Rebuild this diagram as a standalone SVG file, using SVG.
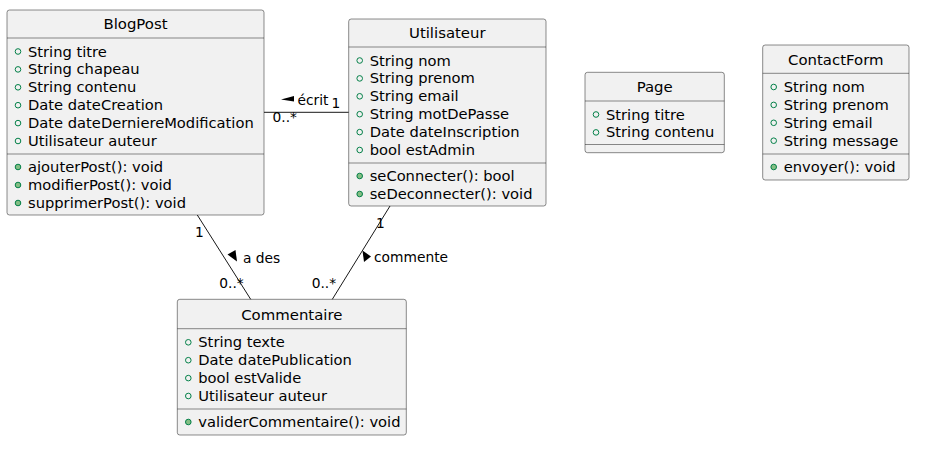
<svg xmlns="http://www.w3.org/2000/svg" width="928" height="451" viewBox="0 0 928 451">
<style>
.box{fill:#F1F1F1;stroke:#181818;stroke-width:0.5}
.sep{stroke:#181818;stroke-width:0.5}
.title{font-family:"DejaVu Sans",sans-serif;font-size:14.9px;fill:#000;text-anchor:middle}
.attr{font-family:"DejaVu Sans",sans-serif;font-size:14.7px;fill:#000}
.lbl{font-family:"DejaVu Sans",sans-serif;font-size:13.8px;fill:#000}
.fld{fill:none;stroke:#038048;stroke-width:1}
.mth{fill:#84BE84;stroke:#038048;stroke-width:1}
.edge{stroke:#181818;stroke-width:1;fill:none}
</style>
<rect width="928" height="451" fill="#FFFFFF"/>
<g id="BlogPost">
<rect class="box" x="7" y="10" width="257" height="205" rx="2.5"/>
<text class="title" x="135.5" y="29">BlogPost</text>
<line class="sep" x1="7" y1="38" x2="264" y2="38"/>
<circle class="fld" cx="18" cy="51.5" r="2.8"/><text class="attr" x="28" y="56.5">String titre</text>
<circle class="fld" cx="18" cy="69.4" r="2.8"/><text class="attr" x="28" y="74.4">String chapeau</text>
<circle class="fld" cx="18" cy="87.3" r="2.8"/><text class="attr" x="28" y="92.3">String contenu</text>
<circle class="fld" cx="18" cy="105.2" r="2.8"/><text class="attr" x="28" y="110.2">Date dateCreation</text>
<circle class="fld" cx="18" cy="123.1" r="2.8"/><text class="attr" x="28" y="128.1">Date dateDerniereModification</text>
<circle class="fld" cx="18" cy="141" r="2.8"/><text class="attr" x="28" y="146">Utilisateur auteur</text>
<line class="sep" x1="7" y1="154" x2="264" y2="154"/>
<circle class="mth" cx="18" cy="167" r="2.8"/><text class="attr" x="28" y="172">ajouterPost(): void</text>
<circle class="mth" cx="18" cy="185" r="2.8"/><text class="attr" x="28" y="190">modifierPost(): void</text>
<circle class="mth" cx="18" cy="203" r="2.8"/><text class="attr" x="28" y="208">supprimerPost(): void</text>
</g>
<g id="Utilisateur">
<rect class="box" x="348.7" y="19" width="197.3" height="187" rx="2.5"/>
<text class="title" x="447.3" y="38">Utilisateur</text>
<line class="sep" x1="348.7" y1="47" x2="546" y2="47"/>
<circle class="fld" cx="359.7" cy="60.5" r="2.8"/><text class="attr" x="369.7" y="65.5">String nom</text>
<circle class="fld" cx="359.7" cy="78.4" r="2.8"/><text class="attr" x="369.7" y="83.4">String prenom</text>
<circle class="fld" cx="359.7" cy="96.3" r="2.8"/><text class="attr" x="369.7" y="101.3">String email</text>
<circle class="fld" cx="359.7" cy="114.2" r="2.8"/><text class="attr" x="369.7" y="119.2">String motDePasse</text>
<circle class="fld" cx="359.7" cy="132.1" r="2.8"/><text class="attr" x="369.7" y="137.1">Date dateInscription</text>
<circle class="fld" cx="359.7" cy="150" r="2.8"/><text class="attr" x="369.7" y="155">bool estAdmin</text>
<line class="sep" x1="348.7" y1="163" x2="546" y2="163"/>
<circle class="mth" cx="359.7" cy="176" r="2.8"/><text class="attr" x="369.7" y="181">seConnecter(): bool</text>
<circle class="mth" cx="359.7" cy="194" r="2.8"/><text class="attr" x="369.7" y="199">seDeconnecter(): void</text>
</g>
<g id="Page">
<rect class="box" x="585" y="72.3" width="139.3" height="80.4" rx="2.5"/>
<text class="title" x="654.7" y="92">Page</text>
<line class="sep" x1="585" y1="101" x2="724.3" y2="101"/>
<circle class="fld" cx="596" cy="114.5" r="2.8"/><text class="attr" x="606" y="119.5">String titre</text>
<circle class="fld" cx="596" cy="132.4" r="2.8"/><text class="attr" x="606" y="137.4">String contenu</text>
<line class="sep" x1="585" y1="144.5" x2="724.3" y2="144.5"/>
</g>
<g id="ContactForm">
<rect class="box" x="762.7" y="45" width="146.3" height="135" rx="2.5"/>
<text class="title" x="835.8" y="65">ContactForm</text>
<line class="sep" x1="762.7" y1="73.3" x2="909" y2="73.3"/>
<circle class="fld" cx="773.7" cy="87" r="2.8"/><text class="attr" x="783.7" y="92">String nom</text>
<circle class="fld" cx="773.7" cy="104.9" r="2.8"/><text class="attr" x="783.7" y="109.9">String prenom</text>
<circle class="fld" cx="773.7" cy="122.8" r="2.8"/><text class="attr" x="783.7" y="127.8">String email</text>
<circle class="fld" cx="773.7" cy="140.7" r="2.8"/><text class="attr" x="783.7" y="145.7">String message</text>
<line class="sep" x1="762.7" y1="154" x2="909" y2="154"/>
<circle class="mth" cx="773.7" cy="167" r="2.8"/><text class="attr" x="783.7" y="172">envoyer(): void</text>
</g>
<g id="Commentaire">
<rect class="box" x="177.3" y="299.3" width="229" height="135.7" rx="2.5"/>
<text class="title" x="291.8" y="319.5">Commentaire</text>
<line class="sep" x1="177.3" y1="328.7" x2="406.3" y2="328.7"/>
<circle class="fld" cx="188.3" cy="342.3" r="2.8"/><text class="attr" x="198.3" y="347.3">String texte</text>
<circle class="fld" cx="188.3" cy="360.2" r="2.8"/><text class="attr" x="198.3" y="365.2">Date datePublication</text>
<circle class="fld" cx="188.3" cy="378.1" r="2.8"/><text class="attr" x="198.3" y="383.1">bool estValide</text>
<circle class="fld" cx="188.3" cy="396" r="2.8"/><text class="attr" x="198.3" y="401">Utilisateur auteur</text>
<line class="sep" x1="177.3" y1="409" x2="406.3" y2="409"/>
<circle class="mth" cx="188.3" cy="422" r="2.8"/><text class="attr" x="198.3" y="427">validerCommentaire(): void</text>
</g>
<g id="connectors">
<line class="edge" x1="264" y1="112.3" x2="348.7" y2="112.3"/>
<polygon points="281,99.5 294,96 294,101.5" fill="#000"/>
<text class="lbl" x="297.5" y="104.5">écrit</text>
<text class="lbl" x="331.5" y="108">1</text>
<text class="lbl" x="272.5" y="122">0..*</text>
<line class="edge" x1="197.3" y1="215" x2="250.7" y2="299.3"/>
<polygon points="227.5,254.5 235.5,250 237,261.5" fill="#000"/>
<text class="lbl" x="243" y="262.5">a des</text>
<text class="lbl" x="195" y="236.7">1</text>
<text class="lbl" x="219.3" y="287.7">0..*</text>
<line class="edge" x1="390" y1="206" x2="332.3" y2="299.3"/>
<polygon points="362.5,250.5 371,256.5 364,262" fill="#000"/>
<text class="lbl" x="374" y="262.3">commente</text>
<text class="lbl" x="376" y="228.3">1</text>
<text class="lbl" x="311.7" y="287.7">0..*</text>
</g>
</svg>
